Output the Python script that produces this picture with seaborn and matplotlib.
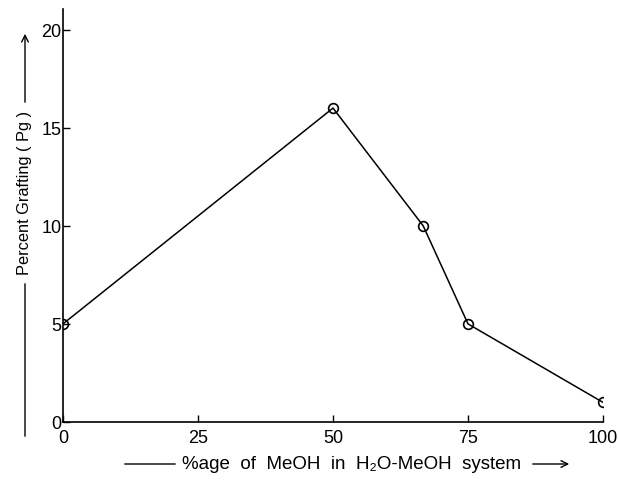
import numpy as np
import pandas as pd
import seaborn as sns
import matplotlib
matplotlib.use('Agg')
import matplotlib.pyplot as plt

# datos
meoh_pct = [0, 50, 66.7, 75, 100]
grafting = [5, 16, 10, 5, 1]
xticks = [0, 25, 50, 75, 100]
yticks = [0, 5, 10, 15, 20]

df = pd.DataFrame({'meoh': meoh_pct, 'pg': grafting})

sns.set_theme(style='ticks')
plt.rcParams['font.family'] = ['Liberation Sans', 'DejaVu Sans']
plt.rcParams['text.color'] = 'black'

W, H = 618, 481
fig = plt.figure(figsize=(W / 100, H / 100), dpi=100)
ax = fig.add_axes([63 / W, 1 - 423 / H, (603 - 63) / W, (423 - 10) / H])

sns.lineplot(data=df, x='meoh', y='pg', ax=ax, color='black', lw=1.1,
             marker='o', markersize=7, markerfacecolor='none',
             markeredgecolor='black', markeredgewidth=1.2)

ax.set_xlim(0, 100)
ax.set_ylim(0, 21.05)
ax.set_xticks(xticks)
ax.set_yticks(yticks)
ax.tick_params(direction='in', length=5, width=1, colors='black', labelsize=13)
ax.tick_params(axis='x', pad=5)
ax.tick_params(axis='y', pad=1)
ax.set_xlabel('')
ax.set_ylabel('')
sns.despine(ax=ax)
for s in ['left', 'bottom']:
    ax.spines[s].set_color('black')
    ax.spines[s].set_linewidth(1.2)

# etiqueta eje y con flechas
fig.text(25 / W, 1 - 193 / H, 'Percent Grafting ( Pg )', rotation=90,
         ha='center', va='center', fontsize=11.8, color='black')
ax.annotate('', xy=(25, H - 282), xytext=(25, H - 440), xycoords='figure pixels',
            textcoords='figure pixels', arrowprops=dict(arrowstyle='-', lw=1, color='black'))
ax.annotate('', xy=(25, H - 32), xytext=(25, H - 106), xycoords='figure pixels',
            textcoords='figure pixels', arrowprops=dict(arrowstyle='->', lw=1, color='black'))

# etiqueta eje x con flechas
fig.text(182 / W, 1 - 465 / H, '%age  of  MeOH  in  H₂O-MeOH  system',
         ha='left', va='center', fontsize=13.5, color='black')
ax.annotate('', xy=(178, H - 465), xytext=(122, H - 465), xycoords='figure pixels',
            textcoords='figure pixels', arrowprops=dict(arrowstyle='-', lw=1, color='black'))
ax.annotate('', xy=(572, H - 465), xytext=(530, H - 465), xycoords='figure pixels',
            textcoords='figure pixels', arrowprops=dict(arrowstyle='->', lw=1, color='black'))

fig.savefig('out.png', dpi=100)
